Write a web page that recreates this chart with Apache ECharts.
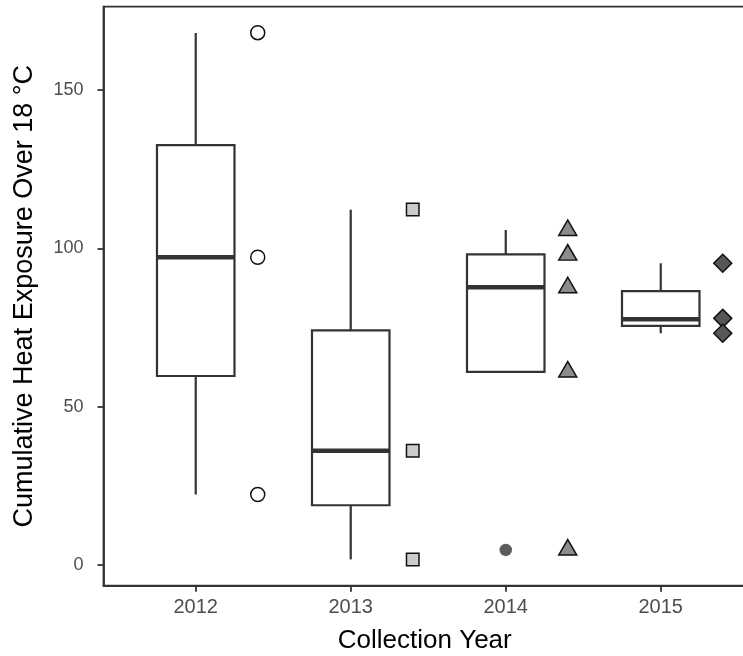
<!DOCTYPE html>
<html>
<head>
<meta charset="utf-8">
<script src="https://cdn.jsdelivr.net/npm/echarts@6/dist/echarts.min.js"></script>
<style>
  html, body { margin: 0; padding: 0; background: #fff; }
  #chart { width: 743px; height: 656px; }
</style>
</head>
<body>
<div id="chart"></div>
<script>
// collection years (x axis)
const years = [2012, 2013, 2014, 2015];
// box per year: [lower whisker, Q1, median, Q3, upper whisker]
const boxStats = [
  [22.3, 59.7, 97.2, 132.6, 168.0],
  [1.8, 18.9, 36.1, 74.1, 112.2],
  [61.0, 61.0, 87.7, 98.1, 105.8],
  [73.2, 75.5, 77.6, 86.5, 95.3]
];
// boxplot outliers [year, value]
const outliers = [[2014, 4.8]];
// raw values drawn beside each box
const pts2012 = [168.1, 97.2, 22.3];
const pts2013 = [112.3, 36.1, 1.8];
const pts2014 = [105.7, 97.9, 87.6, 61.0, 4.8];
const pts2015 = [95.3, 77.9, 73.2];
const yTicks = [0, 50, 100, 150];

const pointShift = 0.4;  // points sit to the right of each box
const boxWidth = 0.5;    // in axis units
const font = '"Liberation Sans", Arial, sans-serif';
const ink = '#333333';

const boxData = years.map((y, i) => [y].concat(boxStats[i]));
const side = (year, vals) => vals.map(v => [year + pointShift, v]);

const chart = echarts.init(document.getElementById('chart'));

function renderBox(params, api) {
  const x = api.value(0);
  const lo = api.coord([x, api.value(1)]);
  const q1 = api.coord([x, api.value(2)]);
  const md = api.coord([x, api.value(3)]);
  const q3 = api.coord([x, api.value(4)]);
  const hi = api.coord([x, api.value(5)]);
  const half = api.size([boxWidth, 0])[0] / 2;
  const ls = { stroke: ink, lineWidth: 2.2, fill: null };
  return {
    type: 'group',
    children: [
      { type: 'line', shape: { x1: hi[0], y1: hi[1], x2: q3[0], y2: q3[1] }, style: ls },
      { type: 'line', shape: { x1: q1[0], y1: q1[1], x2: lo[0], y2: lo[1] }, style: ls },
      { type: 'rect', shape: { x: md[0] - half, y: q3[1], width: half * 2, height: q1[1] - q3[1] },
        style: { fill: '#fff', stroke: ink, lineWidth: 2.2 } },
      { type: 'line', shape: { x1: md[0] - half, y1: md[1], x2: md[0] + half, y2: md[1] },
        style: { stroke: ink, lineWidth: 4.5 } }
    ]
  };
}

const option = {
  animation: false,
  backgroundColor: '#fff',
  grid: {
    left: 103.5,
    top: 6.7,
    right: -3,
    bottom: 70.3,
    show: true,
    borderColor: ink,
    borderWidth: 1.8,
    outerBoundsMode: 'none'
  },
  xAxis: {
    type: 'value',
    min: 2011.405,
    max: 2015.55,
    splitLine: { show: false },
    axisLine: { show: true, onZero: false, lineStyle: { color: ink, width: 1.8 } },
    axisTick: {
      show: true,
      customValues: years,
      length: 6,
      lineStyle: { color: ink, width: 1.8 }
    },
    axisLabel: {
      customValues: years,
      formatter: v => String(v),
      color: '#4d4d4d',
      fontSize: 20,
      fontFamily: font,
      margin: 12
    },
    name: 'Collection Year',
    nameLocation: 'middle',
    nameGap: 42,
    nameTextStyle: { color: '#000', fontSize: 26, fontFamily: font }
  },
  yAxis: {
    type: 'value',
    min: -6.5,
    max: 176.3,
    splitLine: { show: false },
    axisLine: { show: true, onZero: false, lineStyle: { color: ink, width: 1.8 } },
    axisTick: {
      show: true,
      customValues: yTicks,
      length: 6,
      lineStyle: { color: ink, width: 1.8 }
    },
    axisLabel: {
      customValues: yTicks,
      color: '#4d4d4d',
      fontSize: 18,
      fontFamily: font,
      margin: 20
    },
    name: 'Cumulative Heat Exposure Over 18 °C',
    nameLocation: 'middle',
    nameGap: 65,
    nameTextStyle: { color: '#000', fontSize: 27, fontFamily: font }
  },
  series: [
    {
      type: 'custom',
      renderItem: renderBox,
      encode: { x: 0, y: [1, 2, 3, 4, 5] },
      data: boxData,
      z: 2
    },
    {
      type: 'scatter',
      data: outliers,
      symbol: 'circle',
      symbolSize: 12.5,
      itemStyle: { color: ink },
      z: 3
    },
    {
      type: 'scatter',
      data: side(2012, pts2012),
      symbol: 'circle',
      symbolSize: 14,
      itemStyle: { color: '#fff', borderColor: '#111', borderWidth: 1.5, opacity: 1 },
      z: 3
    },
    {
      type: 'scatter',
      data: side(2013, pts2013),
      symbol: 'rect',
      symbolSize: 12.5,
      itemStyle: { color: '#cccccc', borderColor: '#111', borderWidth: 1.5, opacity: 1 },
      z: 3
    },
    {
      type: 'scatter',
      data: side(2014, pts2014),
      symbol: 'triangle',
      symbolSize: [18, 15.5],
      symbolOffset: [0, -2.6],
      itemStyle: { color: '#8c8c8c', borderColor: '#111', borderWidth: 1.5, opacity: 1 },
      z: 3
    },
    {
      type: 'scatter',
      data: side(2015, pts2015),
      symbol: 'diamond',
      symbolSize: [18, 18],
      itemStyle: { color: '#575757', borderColor: '#111', borderWidth: 1.5, opacity: 1 },
      z: 3
    }
  ]
};

chart.setOption(option);
</script>
</body>
</html>
